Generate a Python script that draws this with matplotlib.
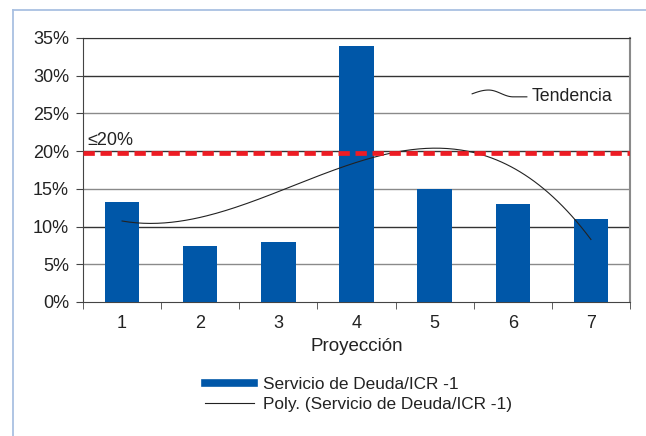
import numpy as np
import matplotlib
matplotlib.use('Agg')
import matplotlib.pyplot as plt
from matplotlib.lines import Line2D
from matplotlib.ticker import FuncFormatter

# data
categories = [1, 2, 3, 4, 5, 6, 7]
deuda_icr = [13.2, 7.4, 8.0, 34.0, 15.0, 13.0, 11.0]
limite = 19.75
yticks = [0, 5, 10, 15, 20, 25, 30, 35]

plt.rcParams['font.family'] = ['Liberation Sans', 'DejaVu Sans']

fig = plt.figure(figsize=(6.46, 4.36), dpi=100)
ax = fig.add_axes([83 / 646, 1 - 302 / 436, (630 - 83) / 646, (302 - 38) / 436])

blue = '#0057a8'
txt_c = '#222222'
bars = ax.bar(categories, deuda_icr, width=0.44, color=blue, zorder=3,
              label='Servicio de Deuda/ICR -1')

# polynomial trend (Excel style)
coef = np.polyfit(categories, deuda_icr, 3)
xs = np.linspace(categories[0], categories[-1], 200)
trend, = ax.plot(xs, np.polyval(coef, xs), color=txt_c, lw=0.8, zorder=4,
                 label='Poly. (Servicio de Deuda/ICR -1)')

# limit line
ax.axhline(limite, color='#ee1c24', lw=3.4, ls=(0, (2.4, 1.2)), zorder=5)
ax.text(0.55, limite + 0.6, '≤20%', fontsize=13, color=txt_c, va='bottom', ha='left')

# grid
for v in yticks[1:]:
    c = '#333333' if v % 10 == 0 else '#8a8a8a'
    ax.axhline(v, color=c, lw=1.0, zorder=1)

ax.set_xlim(0.5, 7.5)
ax.set_ylim(0, 35)
ax.set_yticks(yticks)
ax.yaxis.set_major_formatter(FuncFormatter(lambda v, p: f'{v:.0f}%'))
ax.set_xticks(categories)
ax.set_xticks(np.arange(0.5, 8, 1), minor=True)
ax.tick_params(axis='x', which='major', length=0, labelsize=13, pad=9, colors=txt_c)
ax.tick_params(axis='x', which='minor', length=5, direction='out', color='#444444')
ax.tick_params(axis='y', length=5, direction='out', labelsize=13, pad=5, colors=txt_c, color='#444444')
ax.set_xlabel('Proyección', fontsize=13.5, color=txt_c, labelpad=5)

for s in ['left', 'bottom']:
    ax.spines[s].set_color('#444444')
ax.spines['top'].set_color('#333333')
ax.spines['right'].set_color('#8a8a8a')
ax.spines['right'].set_linewidth(1.5)

# "Tendencia" note with a wavy leader
t = np.linspace(0, 1, 80)
rise = 27.6 + 0.5 * np.sin(np.pi / 2 * np.clip(t / 0.3, 0, 1))
fall = 27.2 + 0.45 * (1 + np.cos(np.pi * np.clip((t - 0.3) / 0.45, 0, 1)))
wy = np.where(t < 0.3, rise, fall)
wx = 5.48 + 0.70 * t
ax.plot(wx, wy, color=txt_c, lw=0.8, zorder=4)
ax.text(6.245, 27.3, 'Tendencia', fontsize=12.8, color=txt_c, va='center', ha='left')

# legend below
handles = [Line2D([], [], color=blue, lw=5.5), Line2D([], [], color=txt_c, lw=0.8)]
labels = [bars.get_label(), trend.get_label()]
fig.legend(handles, labels, loc='upper left', bbox_to_anchor=(189 / 646, 1 - 361 / 436),
           frameon=False, fontsize=12.4, handlelength=2.9, labelspacing=0.3,
           handletextpad=0.5, labelcolor=txt_c)

# light frame around the figure
frame_c = '#a9c0e2'
fig.add_artist(Line2D([12.5 / 646, 12.5 / 646], [0, 1 - 10.5 / 436], color=frame_c, lw=1.3))
fig.add_artist(Line2D([12.5 / 646, 1], [1 - 10.5 / 436, 1 - 10.5 / 436], color=frame_c, lw=1.3))

fig.savefig('out.png', dpi=100)
